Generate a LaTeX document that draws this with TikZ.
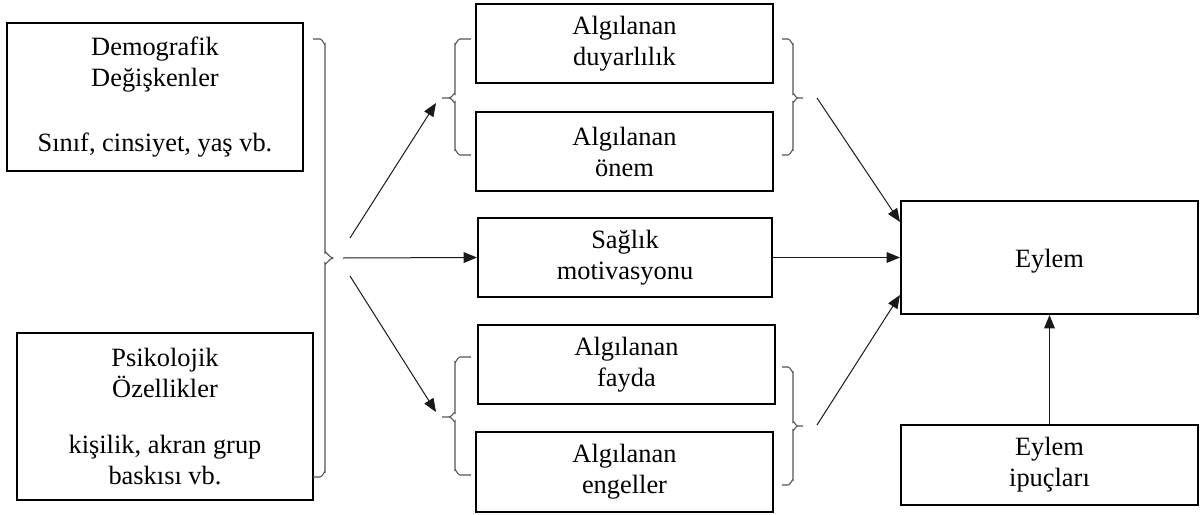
\documentclass[tikz,border=0pt]{standalone}
\usepackage{fontspec}
\setmainfont{Liberation Serif}
\usetikzlibrary{arrows.meta}

\tikzset{every picture/.style={line width=0.75pt}}
\tikzset{
  kutu/.style={draw, line width=1.5pt, align=center, inner sep=0pt, font=\fontsize{19.8}{23.25}\selectfont, execute at begin node={\rule{0pt}{20pt}}},
  ok/.style={-{Triangle[length=10pt,width=8pt]}, line width=0.75pt, color={rgb, 255:red, 25; green, 25; blue, 25 }},
  parantez/.style={line width=0.8pt, color={rgb, 255:red, 85; green, 85; blue, 85 }}
}

\begin{document}
\begin{tikzpicture}[x=0.75pt,y=0.75pt,yscale=-1,xscale=1]
		\useasboundingbox (0,0) rectangle (1202,514);

		% sol kutular
		\draw (155,97) node (demo) [kutu, minimum width=222pt, minimum height=111pt] {Demografik\\Değişkenler\\[25pt]Sınıf, cinsiyet, yaş vb.};
		\draw (165,416.5) node (psiko) [kutu, minimum width=222pt, minimum height=125.25pt] {Psikolojik\\Özellikler\\[19pt]kişilik, akran grup\\baskısı vb.};

		% orta kutular
		\draw (624.5,43.5) node (duyar) [kutu, minimum width=222.75pt, minimum height=59.25pt] {Algılanan\\duyarlılık};
		\draw (624.5,151.5) node (onem) [kutu, minimum width=222.75pt, minimum height=59.25pt] {Algılanan\\önem};
		\draw (625,257.5) node (saglik) [kutu, minimum width=220.5pt, minimum height=59.25pt] {Sağlık\\motivasyonu};
		\draw (626.5,364.5) node (fayda) [kutu, minimum width=222.75pt, minimum height=59.25pt] {Algılanan\\fayda};
		\draw (624.5,472) node (engel) [kutu, minimum width=222.75pt, minimum height=60pt] {Algılanan\\engeller};

		% sag kutular
		\draw (1049.5,257.5) node (eylem) [kutu, minimum width=222.75pt, minimum height=84.75pt] {Eylem};
		\draw (1049.5,465) node (ipucu) [kutu, minimum width=222.75pt, minimum height=60pt] {Eylem\\ipuçları};

		% parantezler
		\draw [parantez] (313,39) -- (320,39) to[out=0,in=90] (325,44) -- (325,253) to[out=-90,in=180] (333,258) to[out=180,in=90] (325,263) -- (325,472) to[out=-90,in=0] (320,477) -- (313,477) ;
		\draw [parantez] (471,39) -- (460,39) to[out=180,in=90] (455,44) -- (455,94) to[out=-90,in=0] (449,98) -- (442,98) (449,98) to[out=0,in=90] (455,102) -- (455,150) to[out=-90,in=180] (460,155) -- (471,155) ;
		\draw [parantez] (782,39) -- (788,39) to[out=0,in=90] (793,44) -- (793,94) to[out=-90,in=180] (798,98) -- (803,98) (798,98) to[out=180,in=90] (793,102) -- (793,150) to[out=-90,in=0] (788,155) -- (782,155) ;
		\draw [parantez] (471,357) -- (460,357) to[out=180,in=90] (455,362) -- (455,413) to[out=-90,in=0] (449,417) -- (442,417) (449,417) to[out=0,in=90] (455,421) -- (455,470) to[out=-90,in=180] (460,475) -- (471,475) ;
		\draw [parantez] (782,367) -- (788,367) to[out=0,in=90] (793,372) -- (793,422) to[out=-90,in=180] (798,426) -- (803,426) (798,426) to[out=180,in=90] (793,430) -- (793,480) to[out=-90,in=0] (788,485) -- (782,485) ;

		% ok uclari
		\coordinate (yukari) at (350,238);
		\coordinate (orta) at (343,258);
		\coordinate (asagi) at (350,276);
		\coordinate (ust) at (436,103);
		\coordinate (alt) at (436,412);
		\coordinate (sagust) at (817,98);
		\coordinate (sagalt) at (817,425);
		\coordinate (eylemust) at (900,222);
		\coordinate (eylemalt) at (900,295);

		% oklar
		\draw [ok] (yukari) -- (ust) ;
		\draw [ok] (orta) -- (saglik.west) ;
		\draw [ok] (asagi) -- (alt) ;
		\draw [ok] (sagust) -- (eylemust) ;
		\draw [ok] (saglik.east) -- (eylem.west) ;
		\draw [ok] (sagalt) -- (eylemalt) ;
		\draw [ok] (ipucu.north) -- (eylem.south) ;

\end{tikzpicture}
\end{document}
